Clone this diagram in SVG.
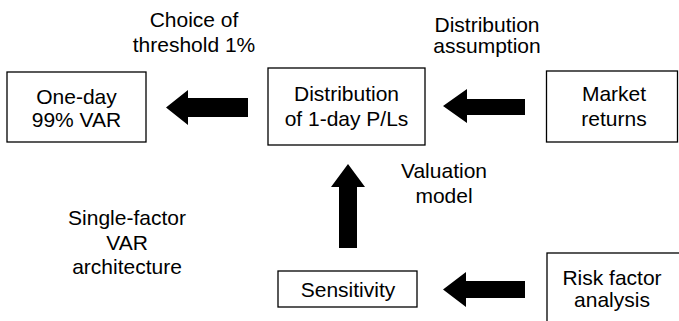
<svg xmlns="http://www.w3.org/2000/svg" width="679" height="321" viewBox="0 0 679 321">
<style>
.box{fill:#fff;stroke:#000;stroke-width:1.3}
text{font-family:"Liberation Sans",Arial,sans-serif;font-size:21px;fill:#000;text-anchor:middle}
.arr{fill:#000}
</style>
<rect width="679" height="321" fill="#fff"/>
<g id="labels">
<text x="194" y="27">Choice of</text>
<text x="194" y="52">threshold 1%</text>
<text x="487" y="32">Distribution</text>
<text x="487" y="53">assumption</text>
<text x="444" y="178">Valuation</text>
<text x="444" y="203">model</text>
<text x="127" y="225">Single-factor</text>
<text x="127" y="250">VAR</text>
<text x="127" y="274">architecture</text>
</g>
<g id="connectors">
<polygon class="arr" points="166,107.5 188,90 188,98 248,98 248,117 188,117 188,125"/>
<polygon class="arr" points="443,106 467,89 467,99 525,99 525,115 467,115 467,123"/>
<polygon class="arr" points="348,164 365,187 357,187 357,248 339,248 339,187 331,187"/>
<polygon class="arr" points="443,289.5 466,272 466,281 525,281 525,298 466,298 466,307"/>
</g>
<g id="node-var">
<rect class="box" x="7" y="72" width="139" height="70"/>
<text x="76.5" y="104">One-day</text>
<text x="76.5" y="127">99% VAR</text>
</g>
<g id="node-dist">
<rect class="box" x="268" y="68" width="157" height="77"/>
<text x="346.5" y="101">Distribution</text>
<text x="346.5" y="126">of 1-day P/Ls</text>
</g>
<g id="node-market">
<rect class="box" x="546.5" y="71" width="131" height="71"/>
<text x="614" y="101">Market</text>
<text x="614" y="126">returns</text>
</g>
<g id="node-sens">
<rect class="box" x="278" y="271" width="139" height="36"/>
<text x="348" y="297">Sensitivity</text>
</g>
<g id="node-risk">
<rect class="box" x="547" y="253" width="140" height="80"/>
<text x="612" y="285">Risk factor</text>
<text x="612" y="307">analysis</text>
</g>
</svg>
